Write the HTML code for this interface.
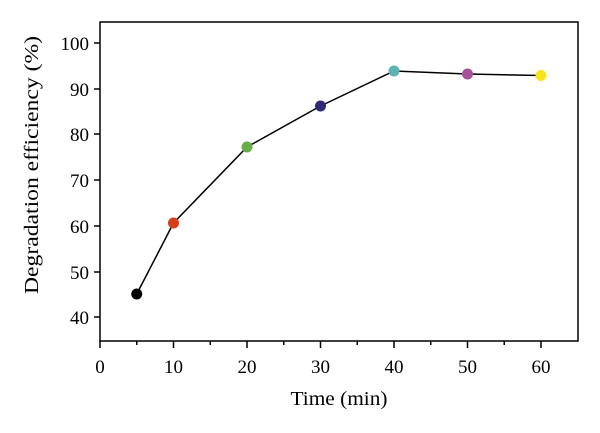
<!DOCTYPE html><html><head><style>body{margin:0;background:#fff}</style></head><body>
<svg width="600" height="428" xmlns="http://www.w3.org/2000/svg" font-family="Liberation Serif, serif" font-size="19" fill="#000">
<rect x="100" y="22" width="478" height="319" fill="none" stroke="#000" stroke-width="1.5"/>
<g stroke="#000" stroke-width="1.5">
<line x1="94" y1="43" x2="100" y2="43"/><line x1="94" y1="89" x2="100" y2="89"/><line x1="94" y1="134" x2="100" y2="134"/><line x1="94" y1="180" x2="100" y2="180"/><line x1="94" y1="226" x2="100" y2="226"/><line x1="94" y1="272" x2="100" y2="272"/><line x1="94" y1="317" x2="100" y2="317"/>
<line x1="100" y1="341" x2="100" y2="348"/><line x1="173.5" y1="341" x2="173.5" y2="348"/><line x1="247" y1="341" x2="247" y2="348"/><line x1="320.5" y1="341" x2="320.5" y2="348"/><line x1="394" y1="341" x2="394" y2="348"/><line x1="467.5" y1="341" x2="467.5" y2="348"/><line x1="541" y1="341" x2="541" y2="348"/>
<line x1="136.75" y1="341" x2="136.75" y2="345"/><line x1="210.25" y1="341" x2="210.25" y2="345"/><line x1="283.75" y1="341" x2="283.75" y2="345"/><line x1="357.25" y1="341" x2="357.25" y2="345"/><line x1="430.75" y1="341" x2="430.75" y2="345"/><line x1="504.25" y1="341" x2="504.25" y2="345"/>
</g>
<g text-anchor="end"><text x="89" y="50">100</text><text x="89" y="96">90</text><text x="89" y="141">80</text><text x="89" y="187">70</text><text x="89" y="233">60</text><text x="89" y="279">50</text><text x="89" y="324">40</text></g>
<g text-anchor="middle"><text x="100" y="373">0</text><text x="173.5" y="373">10</text><text x="247" y="373">20</text><text x="320.5" y="373">30</text><text x="394" y="373">40</text><text x="467.5" y="373">50</text><text x="541" y="373">60</text>
<text x="339" y="405" font-size="20" textLength="97" lengthAdjust="spacingAndGlyphs">Time (min)</text>
<text transform="translate(38,165) rotate(-90)" font-size="20" textLength="258" lengthAdjust="spacingAndGlyphs">Degradation efficiency (%)</text></g>
<polyline fill="none" stroke="#000" stroke-width="1.5" points="136.75,294 173.5,223 247,147 320.5,106 394,71 467.5,74 541,75.5"/>
<circle cx="136.75" cy="294" r="5.5" fill="#000"/>
<circle cx="173.5" cy="223" r="5.5" fill="#d63d1c"/>
<circle cx="247" cy="147" r="5.5" fill="#6aac45"/>
<circle cx="320.5" cy="106" r="5.5" fill="#2e2a78"/>
<circle cx="394" cy="71" r="5.5" fill="#5bb3b3"/>
<circle cx="467.5" cy="74" r="5.5" fill="#a8519a"/>
<circle cx="541" cy="75.5" r="5.5" fill="#f7e51c"/>
</svg></body></html>
